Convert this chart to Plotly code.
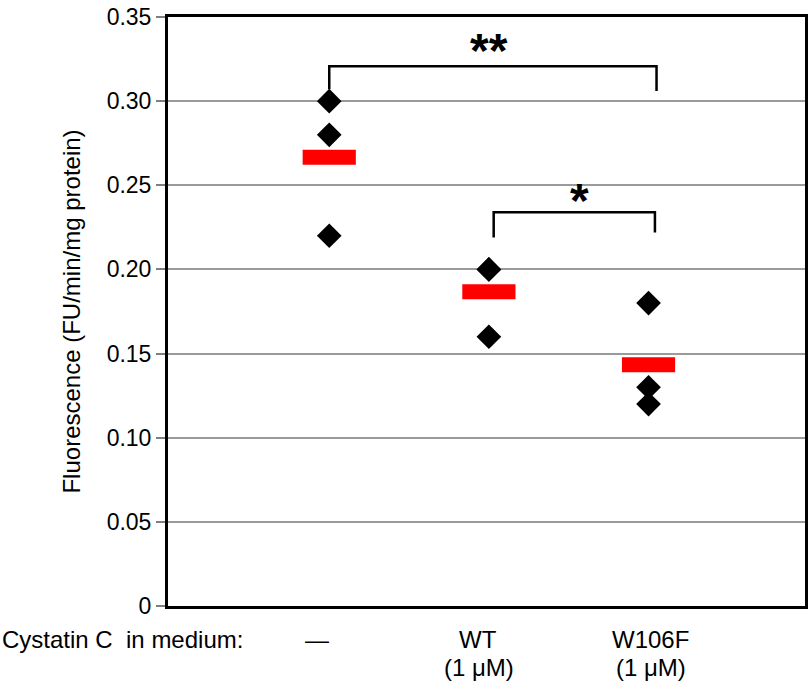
import plotly.graph_objects as go

# ---- data ----
groups = ["—", "WT", "W106F"]
group_sub = ["", "(1 μM)", "(1 μM)"]
group_pos = [1, 2, 3]
values = [
    [0.30, 0.28, 0.22],   # no cystatin C
    [0.20, 0.20, 0.16],   # WT (1 µM)
    [0.18, 0.13, 0.12],   # W106F (1 µM)
]
means = [sum(v) / len(v) for v in values]

y_ticks = [0, 0.05, 0.10, 0.15, 0.20, 0.25, 0.30, 0.35]
y_ticklabels = ["0", "0.05", "0.10", "0.15", "0.20", "0.25", "0.30", "0.35"]

# significance brackets
bracket_x = [[1.0, 1.0, 3.05, 3.05], [2.03, 2.03, 3.04, 3.04]]
bracket_y = [[0.307, 0.3208, 0.3208, 0.306], [0.219, 0.234, 0.234, 0.222]]
sig_labels = ["**", "*"]
sig_label_x = [2.0, 2.57]
sig_label_y = [0.337, 0.248]

fig = go.Figure()

# brackets
for bx, by in zip(bracket_x, bracket_y):
    fig.add_trace(go.Scatter(x=bx, y=by, mode="lines",
                             line=dict(color="black", width=2.5),
                             hoverinfo="skip", showlegend=False))

# points
for gx, vals in zip(group_pos, values):
    fig.add_trace(go.Scatter(x=[gx] * len(vals), y=vals, mode="markers",
                             marker=dict(symbol="diamond", size=19, color="black",
                                         line=dict(width=0)),
                             showlegend=False))

# mean bars
fig.add_trace(go.Scatter(x=group_pos, y=means, mode="markers",
                         marker=dict(symbol="line-ew", size=38,
                                     line=dict(color="#ff0000", width=15)),
                         showlegend=False))

# significance labels
for lab, lx, ly in zip(sig_labels, sig_label_x, sig_label_y):
    fig.add_annotation(x=lx, y=ly, text=f"<b>{lab}</b>", showarrow=False,
                       font=dict(size=48, color="black", family="Liberation Sans, Arial"),
                       xanchor="center", yanchor="middle", yshift=-12)

# category labels
label_shift = [-12, -11, 2]
sub_shift = [0, -10, 2]
for gx, g, s, sh, ssh in zip(group_pos, groups, group_sub, label_shift, sub_shift):
    fig.add_annotation(x=gx, y=0, yref="y", text=g, showarrow=False,
                       xanchor="center", yanchor="middle", yshift=-33, xshift=sh,
                       font=dict(size=24, color="black"))
    if s:
        fig.add_annotation(x=gx, y=0, yref="y", text=s, showarrow=False,
                           xanchor="center", yanchor="middle", yshift=-61, xshift=ssh,
                           font=dict(size=24, color="black"))

fig.add_annotation(x=0, xref="paper", xshift=-168, y=0, yref="y", text="Cystatin C  in medium:",
                   showarrow=False, xanchor="left", yanchor="middle", yshift=-33,
                   font=dict(size=24, color="black"))

fig.update_layout(
    width=812, height=682,
    margin=dict(l=168, r=4, t=17, b=76),
    paper_bgcolor="white", plot_bgcolor="white",
    font=dict(family="Liberation Sans, Arial, sans-serif", color="black"),
    xaxis=dict(range=[-0.01, 3.98], showgrid=False, zeroline=False, showticklabels=False,
               ticks="", showline=True, linecolor="black", linewidth=3, mirror=True),
    yaxis=dict(range=[0, 0.35], tickvals=y_ticks, ticktext=y_ticklabels,
               showgrid=True, gridcolor="#9a9a9a", gridwidth=2, zeroline=False,
               ticks="outside", ticklen=9, tickwidth=2, tickcolor="#808080",
               tickfont=dict(size=23, color="black"),
               showline=True, linecolor="black", linewidth=3, mirror=True,
               title=dict(text="Fluorescence (FU/min/mg protein)",
                          font=dict(size=24, color="black"), standoff=20)),
)

fig.write_html("out.html", post_script="document.body.style.margin='0';",
               config={"displayModeBar": False})
